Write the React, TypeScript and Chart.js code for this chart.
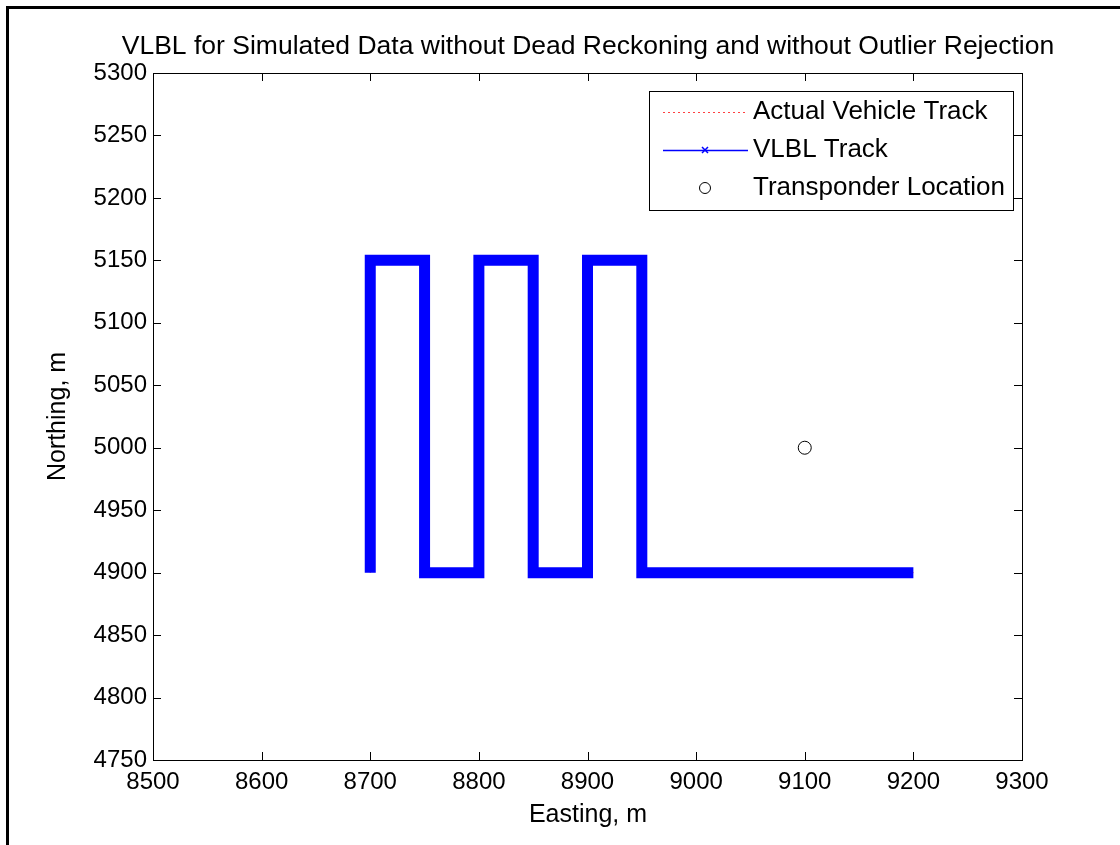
import React, { useEffect, useRef } from "react";
import { Chart, registerables } from "chart.js";

Chart.register(...registerables);

const titleText = "VLBL for Simulated Data without Dead Reckoning and without Outlier Rejection";
const xAxisTitle = "Easting, m";
const yAxisTitle = "Northing, m";
const legendLabels = ["Actual Vehicle Track", "VLBL Track", "Transponder Location"];

const actualEasting = [8700, 8700, 8750, 8750, 8800, 8800, 8850, 8850, 8900, 8900, 8950, 8950, 9200];
const actualNorthing = [4900, 5150, 5150, 4900, 4900, 5150, 5150, 4900, 4900, 5150, 5150, 4900, 4900];
const vlblEasting = [8700, 8700, 8750, 8750, 8800, 8800, 8850, 8850, 8900, 8900, 8950, 8950, 9200];
const vlblNorthing = [4900, 5150, 5150, 4900, 4900, 5150, 5150, 4900, 4900, 5150, 5150, 4900, 4900];
const transponderEasting = [9100];
const transponderNorthing = [5000];

const xMin = 8500, xMax = 9300, xStep = 100;
const yMin = 4750, yMax = 5300, yStep = 50;

const FONT = "'Liberation Sans', Arial, Helvetica, sans-serif";

const zip = (xs: number[], ys: number[]) => xs.map((x, i) => ({ x, y: ys[i] }));

const decorPlugin = {
  id: "decor",
  afterDraw(chart: any) {
    const ctx = chart.ctx as CanvasRenderingContext2D;
    const { left, right, top, bottom } = chart.chartArea;
    const xs = chart.scales.x, ys = chart.scales.y;
    ctx.save();
    ctx.strokeStyle = "#000";
    ctx.lineWidth = 1;
    ctx.strokeRect(Math.round(left) + 0.5, Math.round(top) + 0.5, Math.round(right - left), Math.round(bottom - top));
    const tl = 8;
    ctx.beginPath();
    for (let v = xMin; v <= xMax; v += xStep) {
      const px = Math.round(xs.getPixelForValue(v)) + 0.5;
      ctx.moveTo(px, bottom); ctx.lineTo(px, bottom - tl);
      ctx.moveTo(px, top); ctx.lineTo(px, top + tl);
    }
    for (let v = yMin; v <= yMax; v += yStep) {
      const py = Math.round(ys.getPixelForValue(v)) + 0.5;
      ctx.moveTo(left, py); ctx.lineTo(left + tl, py);
      ctx.moveTo(right, py); ctx.lineTo(right - tl, py);
    }
    ctx.stroke();

    ctx.fillStyle = "#000";
    ctx.font = `26.5px ${FONT}`;
    ctx.textAlign = "center";
    ctx.textBaseline = "middle";
    ctx.fillText(titleText, 588, 47);
    ctx.font = `25px ${FONT}`;
    ctx.fillText(xAxisTitle, 588, 815);
    ctx.save();
    ctx.translate(58, (top + bottom) / 2);
    ctx.rotate(-Math.PI / 2);
    ctx.fillText(yAxisTitle, 0, 0);
    ctx.restore();

    // legend
    const lx = 649, ly = 91, lw = 364, lh = 119;
    ctx.fillStyle = "#fff";
    ctx.fillRect(lx, ly, lw, lh);
    ctx.strokeStyle = "#000";
    ctx.lineWidth = 1;
    ctx.strokeRect(lx + 0.5, ly + 0.5, lw, lh);
    const rows = [112, 150, 188];
    const sx0 = 663, sx1 = 748, sc = 705;
    ctx.strokeStyle = "#ff4040";
    ctx.setLineDash([2, 3]);
    ctx.beginPath(); ctx.moveTo(sx0, rows[0] + 0.5); ctx.lineTo(sx1, rows[0] + 0.5); ctx.stroke();
    ctx.setLineDash([]);
    ctx.strokeStyle = "#0000ff";
    ctx.lineWidth = 1.5;
    ctx.beginPath(); ctx.moveTo(sx0, rows[1] + 0.5); ctx.lineTo(sx1, rows[1] + 0.5); ctx.stroke();
    ctx.beginPath();
    ctx.moveTo(sc - 3, rows[1] - 3); ctx.lineTo(sc + 3, rows[1] + 3);
    ctx.moveTo(sc + 3, rows[1] - 3); ctx.lineTo(sc - 3, rows[1] + 3);
    ctx.stroke();
    ctx.lineWidth = 1;
    ctx.strokeStyle = "#000";
    ctx.beginPath(); ctx.arc(sc, rows[2], 5.5, 0, Math.PI * 2); ctx.stroke();
    ctx.fillStyle = "#000";
    ctx.textAlign = "left";
    ctx.font = `26px ${FONT}`;
    legendLabels.forEach((t, i) => ctx.fillText(t, 753, rows[i]));

    // outer frame
    ctx.fillStyle = "#000";
    ctx.fillRect(6, 6, 1120 - 6, 3);
    ctx.fillRect(6, 6, 3, 845 - 6);
    ctx.restore();
  },
};

export default function App() {
  const ref = useRef<HTMLCanvasElement | null>(null);
  useEffect(() => {
    document.body.style.margin = "0";
    const canvas = ref.current!;
    const chart = new Chart(canvas, {
      type: "scatter",
      data: {
        datasets: [
          {
            label: legendLabels[1],
            data: zip(vlblEasting, vlblNorthing),
            showLine: true,
            borderColor: "#0000ff",
            backgroundColor: "#0000ff",
            borderWidth: 11,
            borderJoinStyle: "miter",
            borderCapStyle: "butt",
            pointRadius: 0,
            order: 2,
          } as any,
          {
            label: legendLabels[0],
            data: zip(actualEasting, actualNorthing),
            showLine: true,
            borderColor: "#ff0000",
            borderWidth: 1,
            borderDash: [1, 3],
            pointRadius: 0,
            order: 3,
          } as any,
          {
            label: legendLabels[2],
            data: zip(transponderEasting, transponderNorthing),
            showLine: false,
            borderColor: "#000",
            backgroundColor: "rgba(0,0,0,0)",
            borderWidth: 1,
            pointRadius: 6.5,
            pointStyle: "circle",
            order: 1,
          } as any,
        ],
      },
      options: {
        animation: false,
        responsive: false,
        devicePixelRatio: 1,
        layout: { padding: { left: 0, right: 98, top: 73, bottom: 0 } },
        plugins: { legend: { display: false }, title: { display: false }, tooltip: { enabled: false } },
        scales: {
          x: {
            type: "linear",
            min: xMin,
            max: xMax,
            afterFit: (s: any) => { s.height = 85; },
            afterBuildTicks: (s: any) => {
              const t = [];
              for (let v = xMin; v <= xMax; v += xStep) t.push({ value: v });
              s.ticks = t;
            },
            ticks: { color: "#000", font: { family: FONT, size: 24 }, padding: 8, maxRotation: 0, autoSkip: false, callback: (v: any) => String(v) },
            grid: { display: false, drawTicks: false },
            border: { display: false },
          },
          y: {
            type: "linear",
            min: yMin,
            max: yMax,
            afterFit: (s: any) => { s.width = 153; },
            afterBuildTicks: (s: any) => {
              const t = [];
              for (let v = yMin; v <= yMax; v += yStep) t.push({ value: v });
              s.ticks = t;
            },
            ticks: { color: "#000", font: { family: FONT, size: 24 }, padding: 6, autoSkip: false, callback: (v: any) => String(v) },
            grid: { display: false, drawTicks: false },
            border: { display: false },
          },
        },
      } as any,
      plugins: [decorPlugin],
    });
    return () => chart.destroy();
  }, []);
  return (
    <canvas
      ref={ref}
      width={1120}
      height={845}
      style={{ position: "fixed", left: 0, top: 0, width: 1120, height: 845, background: "#fff" }}
    />
  );
}
